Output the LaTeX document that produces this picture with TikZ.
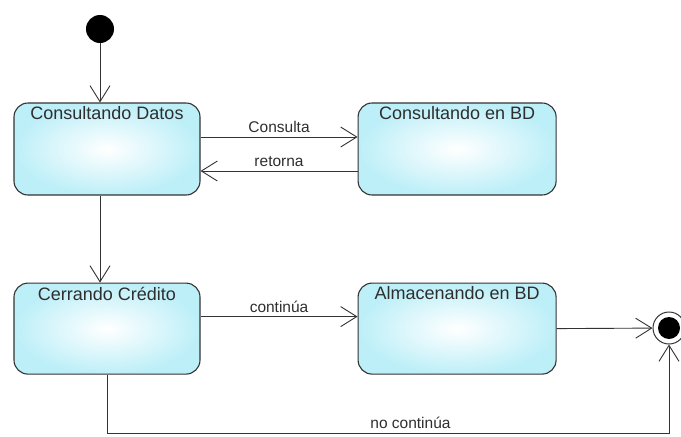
\documentclass[tikz,border=0pt]{standalone}
\usepackage{fontspec}
\setmainfont{Liberation Sans}
\usetikzlibrary{arrows.meta,positioning,calc}
\definecolor{ink}{HTML}{2E2E2E}
\definecolor{statecyan}{HTML}{BDEFF8}
\definecolor{edgegray}{HTML}{333333}

\begin{document}
\begin{tikzpicture}[x=1pt,y=-1pt,
    state/.style={rectangle,rounded corners=14pt,line width=1.1pt,draw=edgegray,inner color=white,outer color=statecyan,minimum width=186pt,minimum height=92pt},
    sname/.style={anchor=north,font=\fontsize{18}{20}\selectfont,text=ink,inner sep=4pt},
    lbl/.style={font=\fontsize{15.5}{18}\selectfont,text=ink,above,inner sep=3.5pt},
    initial/.style={circle,fill=black,minimum size=28pt,inner sep=0pt},
    final/.style={circle,draw=edgegray,line width=1pt,fill=white,minimum size=32pt,inner sep=0pt},
    arr/.style={-{Straight Barb[length=16pt,width=20pt]},line width=0.9pt,draw=edgegray}]
    \useasboundingbox (0,0) rectangle (681,437);
    \node[initial] (ini) at (100,29) {};
    \node[state,label={[sname]north:Consultando Datos}] (datos) at (107,149) {};
    \node[state,minimum width=198pt,right=157pt of datos,label={[sname]north:Consultando en BD}] (bd) {};
    \node[state,minimum height=91pt,below=87pt of datos,label={[sname]north:Cerrando Crédito}] (credito) {};
    \node[state,minimum width=198pt,minimum height=91pt,right=157pt of credito,label={[sname]north:Almacenando en BD}] (almacen) {};
    \node[final] (fin) at (669,328) {};
    \fill[black] (fin.center) circle (11pt);
    \coordinate (bajo) at (credito.south |- 0,433);
    \draw[arr] (ini) -- (ini |- datos.north);
    \draw[arr] ([yshift=12pt]datos.east) -- node[lbl]{Consulta} ([yshift=12pt]bd.west);
    \draw[arr] ([yshift=-22pt]bd.west) -- node[lbl]{retorna} ([yshift=-22pt]datos.east);
    \draw[arr] (ini |- datos.south) -- (ini |- credito.north);
    \draw[arr] ([yshift=12pt]credito.east) -- node[lbl]{continúa} ([yshift=12pt]almacen.west);
    \draw[arr] (almacen.east) -- (fin);
    \draw[arr] (credito.south) -- (bajo) -| node[lbl,pos=0.27]{no continúa} (fin.south);
  \end{tikzpicture}
\end{document}
